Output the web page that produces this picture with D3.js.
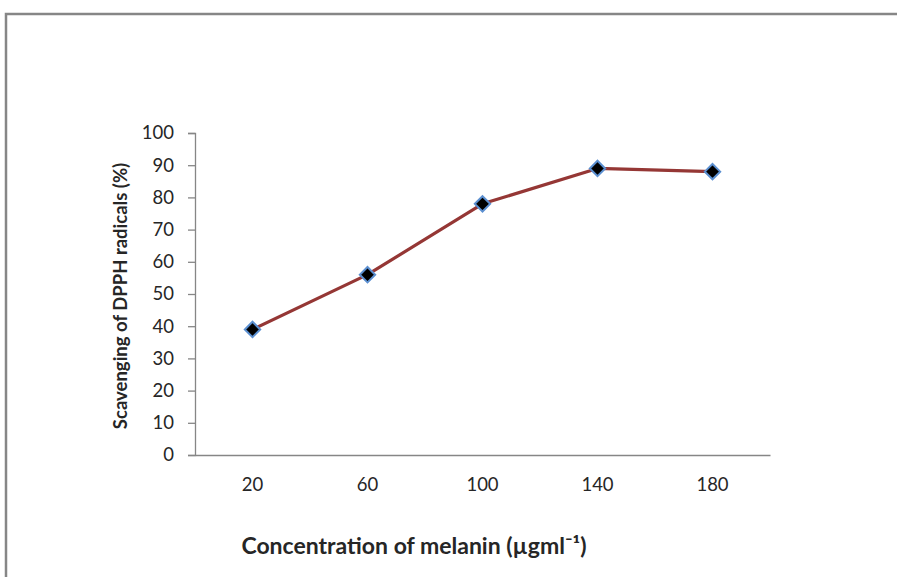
<!DOCTYPE html>
<html>
<head>
<meta charset="utf-8">
<script src="https://cdn.jsdelivr.net/npm/d3@7"></script>
<style>
  html, body { margin: 0; padding: 0; background: #fff; }
  svg { display: block; }
  text { font-family: Lato, "Open Sans", sans-serif; fill: #262626; }
</style>
</head>
<body>
<svg id="chart" width="897" height="577"></svg>
<script>
// Concentration of melanin (µg/ml) and DPPH radical scavenging (%)
const concentrations = ["20", "60", "100", "140", "180"];
const scavenging = [39, 56, 78, 89, 88];
const yTicks = [0, 10, 20, 30, 40, 50, 60, 70, 80, 90, 100];

const svg = d3.select("#chart");
const W = 897, H = 577;

// outer chart frame (runs off the right and bottom edges)
svg.append("path")
  .attr("d", `M6,${H + 5} L6,14 L${W + 5},14`)
  .attr("fill", "none")
  .attr("stroke", "#868686")
  .attr("stroke-width", 2.5);

const plot = { left: 195, right: 770, top: 133, bottom: 455 };

const x = d3.scaleBand()
  .domain(concentrations)
  .range([plot.left, plot.right]);

const y = d3.scaleLinear()
  .domain([0, 100])
  .range([plot.bottom, plot.top]);

// y axis
const yAxis = d3.axisLeft(y).tickValues(yTicks).tickSize(7).tickPadding(14);
const gy = svg.append("g")
  .attr("transform", `translate(${plot.left},0)`)
  .call(yAxis);
gy.select(".domain").attr("stroke", "#868686").attr("stroke-width", 1.3);
gy.selectAll(".tick line").attr("stroke", "#868686").attr("stroke-width", 1.3);
gy.selectAll(".tick text")
  .attr("font-size", 18.5)
  .attr("font-family", "Lato, 'Open Sans', sans-serif")
  .attr("fill", "#262626");

// x axis (no tick marks)
const xAxis = d3.axisBottom(x).tickSize(0).tickPadding(23);
const gx = svg.append("g")
  .attr("transform", `translate(0,${plot.bottom})`)
  .call(xAxis);
gx.select(".domain").attr("stroke", "#868686").attr("stroke-width", 1.3);
gx.selectAll(".tick text")
  .attr("font-size", 18.5)
  .attr("font-family", "Lato, 'Open Sans', sans-serif")
  .attr("fill", "#262626");

// series line
const cx = d => x(d) + x.bandwidth() / 2;
const line = d3.line()
  .x((d, i) => cx(concentrations[i]))
  .y(d => y(d));

svg.append("path")
  .datum(scavenging)
  .attr("d", line)
  .attr("fill", "none")
  .attr("stroke", "#953735")
  .attr("stroke-width", 3.2)
  .attr("stroke-linejoin", "round");

// diamond markers
const diamond = d3.symbol().type(d3.symbolDiamond2).size(150);
svg.append("g")
  .selectAll("path")
  .data(scavenging)
  .join("path")
  .attr("d", diamond)
  .attr("transform", (d, i) => `translate(${cx(concentrations[i])},${y(d)})`)
  .attr("fill", "#000")
  .attr("stroke", "#5b8fd0")
  .attr("stroke-width", 2);

// axis titles
svg.append("text")
  .attr("transform", `translate(127,${(plot.top + plot.bottom) / 2 + 2}) rotate(-90)`)
  .attr("text-anchor", "middle")
  .attr("font-size", 18.5)
  .attr("font-weight", "bold")
  .attr("fill", "#000")
  .text("Scavenging  of DPPH radicals (%)");

svg.append("text")
  .attr("x", 414)
  .attr("y", 554)
  .attr("text-anchor", "middle")
  .attr("font-size", 23)
  .attr("font-weight", "bold")
  .attr("fill", "#000")
  .text("Concentration of melanin (µgml\u207B\u00B9)");
</script>
</body>
</html>
